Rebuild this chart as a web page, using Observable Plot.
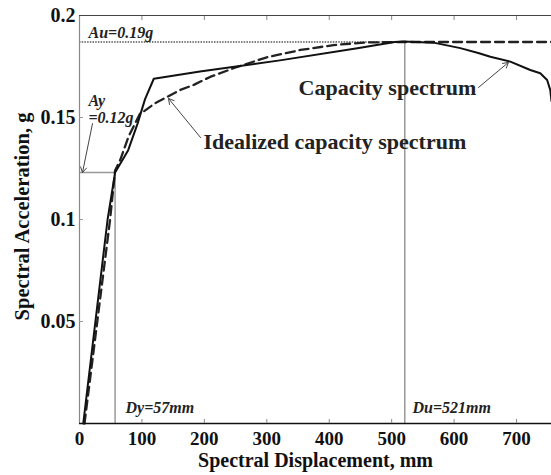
<!DOCTYPE html>
<html><head><meta charset="utf-8">
<script src="https://cdn.jsdelivr.net/npm/d3@7"></script>
<script src="https://cdn.jsdelivr.net/npm/@observablehq/plot@0.6"></script>
<style>body{margin:0;background:#fff} svg{display:block}</style>
</head><body><div id="chart"></div>
<script>
// Capacity spectrum (solid)
const capacityX = [6, 45, 57, 78, 93, 105, 119, 193, 321, 445, 505, 519, 567, 610, 640, 658, 690, 722, 738, 749, 754, 756];
const capacityY = [0, 0.100, 0.123, 0.134, 0.147, 0.159, 0.169, 0.1725, 0.178, 0.184, 0.1870, 0.1872, 0.1867, 0.184, 0.1815, 0.1798, 0.1774, 0.1733, 0.1717, 0.1684, 0.1635, 0.158];
// Idealized capacity spectrum (dashed)
const idealX = [8, 49, 57, 65, 78.5, 97, 103, 121, 140, 161.5, 183, 210, 250, 300, 354, 407, 460, 519, 756];
const idealY = [0, 0.100, 0.124, 0.129, 0.1406, 0.152, 0.153, 0.157, 0.160, 0.1635, 0.166, 0.170, 0.1745, 0.1795, 0.1831, 0.1855, 0.1868, 0.187, 0.187];

const xTicks = [0, 100, 200, 300, 400, 500, 600, 700];
const yTicks = [0.05, 0.1, 0.15, 0.2];
const xDomain = [0, 756];
const yDomain = [0, 0.2];

const Dy = 57, Du = 521, Ay = 0.123, Au = 0.187;

const xTitle = "Spectral Displacement, mm";
const yTitle = "Spectral Acceleration, g";

const italicNotes = [
  {x: 14.4, y: 0.1917, text: "Au=0.19g"},
  {x: 14.4, y: 0.1542, text: "Ay\n=0.12g"},
  {x: 73.7, y: 0.0078, text: "Dy=57mm"},
  {x: 533.4, y: 0.0078, text: "Du=521mm"}
];
const curveLabels = [
  {x: 350.8, y: 0.1647, text: "Capacity spectrum"},
  {x: 198.6, y: 0.1382, text: "Idealized capacity spectrum"}
];
const arrows = [
  {x1: 639, y1: 0.1647, x2: 687, y2: 0.1770},
  {x1: 193.8, y1: 0.1402, x2: 142.6, y2: 0.1593},
  {x1: 20.8, y1: 0.1470, x2: 4.8, y2: 0.1230}
];

const capacity = capacityX.map((x, i) => ({x, y: capacityY[i]}));
const ideal = idealX.map((x, i) => ({x, y: idealY[i]}));

const chart = Plot.plot({
  width: 551, height: 475,
  marginLeft: 79, marginRight: 0, marginTop: 15, marginBottom: 52,
  x: {domain: xDomain},
  y: {domain: yDomain},
  style: {fontFamily: "'Liberation Serif', 'Times New Roman', serif", fontWeight: "bold", background: "#fff", color: "#111", overflow: "visible"},
  marks: [
    // reference lines
    Plot.ruleX([Dy], {y1: 0, y2: Ay, stroke: "#999", strokeWidth: 1.5}),
    Plot.ruleX([Du], {y1: 0, y2: Au, stroke: "#999", strokeWidth: 1.5}),
    Plot.ruleY([Ay], {x1: 0, x2: Dy, stroke: "#999", strokeWidth: 1.5}),
    Plot.ruleY([Au], {x1: 0, x2: Du, stroke: "#555", strokeWidth: 1.3, strokeDasharray: "1.5,1.2"}),
    // curves
    Plot.line(ideal, {x: "x", y: "y", stroke: "#222", strokeWidth: 2.3, strokeDasharray: "9,5"}),
    Plot.line(capacity, {x: "x", y: "y", stroke: "#111", strokeWidth: 2}),
    // arrows
    Plot.arrow(arrows, {x1: "x1", y1: "y1", x2: "x2", y2: "y2", stroke: "#444", strokeWidth: 1, headLength: 9}),
    // annotations
    Plot.text(italicNotes, {x: "x", y: "y", text: "text", textAnchor: "start", fontStyle: "italic", fontSize: 16, fill: "#222", lineHeight: 1.05}),
    Plot.text(curveLabels, {x: "x", y: "y", text: "text", textAnchor: "start", fontSize: 22, fill: "#222"}),
    // frame
    Plot.ruleX([xDomain[0]], {stroke: "#888", strokeWidth: 1.2}),
    Plot.ruleY([yDomain[1]], {stroke: "#444", strokeWidth: 1.2}),
    Plot.ruleY([yDomain[0]], {stroke: "#111", strokeWidth: 1.5}),
    // axes
    Plot.axisX(xTicks, {tickSize: 0, tickPadding: 8, fontSize: 19, label: null, tickFormat: d => String(d)}),
    Plot.axisX(xTicks.slice(1), {tickSize: -4, stroke: "#888", tickFormat: () => "", label: null}),
    Plot.axisX(xTicks.slice(1), {anchor: "top", tickSize: -4, stroke: "#888", tickFormat: () => "", label: null}),
    Plot.axisY(yTicks, {tickSize: 0, tickPadding: 4, fontSize: 20, label: null, tickFormat: d => String(d)}),
    Plot.axisY(yTicks.slice(0, 3), {tickSize: -4, stroke: "#999", tickFormat: () => "", label: null}),
    // titles
    Plot.text([xTitle], {frameAnchor: "bottom", dy: 37, lineAnchor: "middle", textAnchor: "middle", fontSize: 20, text: d => d, fill: "#111"}),
    Plot.text([yTitle], {frameAnchor: "left", dx: -57, dy: -3, rotate: -90, lineAnchor: "middle", textAnchor: "middle", fontSize: 20.5, text: d => d, fill: "#111"})
  ]
});
document.getElementById("chart").appendChild(chart);
</script>
</body></html>
